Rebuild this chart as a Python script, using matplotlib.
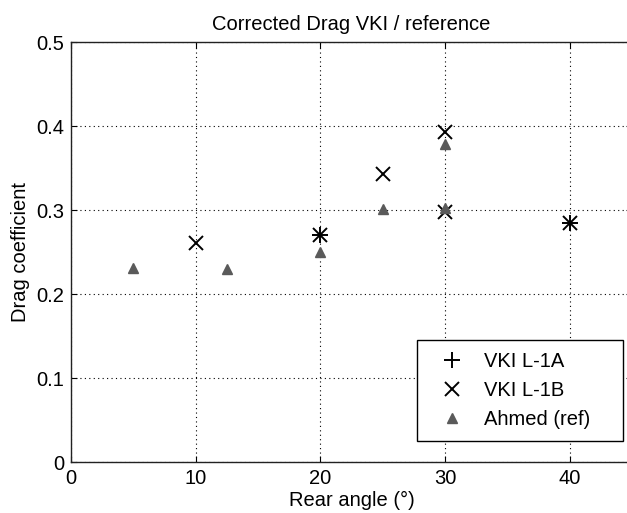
import matplotlib
matplotlib.use('Agg')
import matplotlib.pyplot as plt

plt.rcParams['font.family'] = ['Liberation Sans', 'DejaVu Sans']

# data
vkiA_x = [20, 40]
vkiA_y = [0.270, 0.284]
vkiB_x = [10, 20, 25, 30, 30, 40]
vkiB_y = [0.261, 0.270, 0.343, 0.393, 0.298, 0.284]
ahmed_x = [5, 12.5, 20, 25, 30, 30]
ahmed_y = [0.231, 0.230, 0.250, 0.301, 0.378, 0.302]
xticks = [0, 10, 20, 30, 40]
yticks = [0, 0.1, 0.2, 0.3, 0.4, 0.5]
ytick_labels = ['0', '0.1', '0.2', '0.3', '0.4', '0.5']

fig = plt.figure(figsize=(6.27, 5.13), dpi=100)
ax = fig.add_axes([71/627, 1 - 462/513, (632 - 71)/627, 420/513])

ax.plot(vkiA_x, vkiA_y, linestyle='none', marker='+', color='k',
        markersize=12, markeredgewidth=1.4, label='VKI L-1A')
ax.plot(vkiB_x, vkiB_y, linestyle='none', marker='x', color='k',
        markersize=9.5, markeredgewidth=1.4, label='VKI L-1B')
ax.plot(ahmed_x, ahmed_y, linestyle='none', marker='^', color='#5a5a5a',
        markersize=7.5, label='Ahmed (ref)')

ax.set_xlim(0, 45)
ax.set_ylim(0, 0.5)
ax.set_xticks(xticks)
ax.set_yticks(yticks)
ax.set_yticklabels(ytick_labels)
ax.tick_params(direction='in', length=4, labelsize=14.5, pad=5,
               top=True, right=True)
ax.grid(True, color='k', linestyle=(0, (1, 3)), linewidth=0.8)
for s in ax.spines.values():
    s.set_color('#222222')
    s.set_linewidth(1)

ax.set_title('Corrected Drag VKI / reference', fontsize=14.5, pad=9)
ax.set_xlabel('Rear angle (°)', fontsize=14.5, labelpad=2)
ax.set_ylabel('Drag coefficient', fontsize=14.5, labelpad=4)

# legend box spans roughly x 417..623, y 344..441 px in the reference
leg = ax.legend(loc='lower left',
                bbox_to_anchor=(417/627, 1 - 441/513, 206/627, 97/513),
                bbox_transform=fig.transFigure, borderaxespad=0,
                mode='expand', fontsize=14.5, fancybox=False, framealpha=1,
                edgecolor='k', handlelength=2.3, handletextpad=0.45,
                labelspacing=0.5, borderpad=0.6)
leg.get_frame().set_linewidth(1)

fig.savefig('out.png', dpi=100)
